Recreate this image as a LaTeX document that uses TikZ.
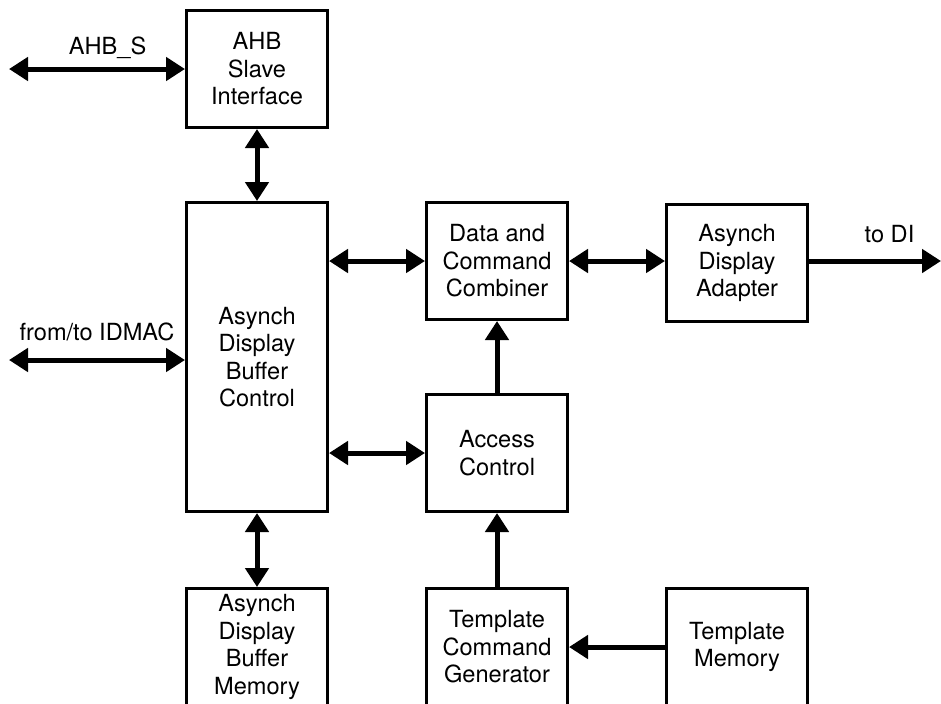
\documentclass[tikz,border=0pt]{standalone}
\usepackage{fontspec}
\setmainfont{TeX Gyre Heros}
\usetikzlibrary{arrows.meta,positioning}

\begin{document}
\begin{tikzpicture}[
    x=0.5pt, y=-0.5pt,
    font=\fontsize{11.8}{13.75}\selectfont,
    node distance=37pt and 48pt,
    block/.style={draw, line width=1.4pt, align=center, minimum width=70.6pt, minimum height=58.6pt, inner sep=2pt},
    bus/.style={{Triangle[length=9.5pt,width=11.5pt]}-{Triangle[length=9.5pt,width=11.5pt]}, line width=2.5pt},
    arrow/.style={-{Triangle[length=9.5pt,width=11.5pt]}, line width=2.5pt},
    lbl/.style={anchor=base, inner sep=0pt}
]
\useasboundingbox (0,0) rectangle (941,703);
\clip (0,0) rectangle (941,703);

\node[block, minimum height=154.6pt] (ctrl) at (257,357) {Asynch\\Display\\Buffer\\Control};
\node[block, above=36pt of ctrl] (ahb) {AHB\\Slave\\Interface};
\node[block, below=of ctrl] (mem) {Asynch\\Display\\Buffer\\Memory};
\node[block, below right=0pt and 48pt of ctrl.north east] (comb) {Data and\\Command\\Combiner};
\node[block, right=of comb, yshift=-1pt] (adapt) {Asynch\\Display\\Adapter};
\node[block, below=36pt of comb] (acc) {Access\\Control};
\node[block, below=of acc] (tcg) {Template\\Command\\Generator};
\node[block, right=of tcg] (tmem) {Template\\Memory};

\coordinate (ahbend) at (9,69);
\coordinate (idmac) at (9,360);
\coordinate (di) at (941,261);

\draw[bus] (ahbend) -- (ahb) node[lbl, pos=0.56, yshift=7.5pt] (ahbs) {AHB\_S};
\draw[bus] (idmac) -- (idmac -| ctrl.west) node[lbl, pos=0.5, yshift=10pt] (idmaclbl) {from/to IDMAC};
\draw[bus] (ahb) -- (ctrl);
\draw[bus] (ctrl) -- (mem);
\draw[bus] (comb.west -| ctrl.east) -- (comb.west);
\draw[bus] (acc.west -| ctrl.east) -- (acc.west);
\draw[bus] (comb.east) -- (comb.east -| adapt.west);
\draw[arrow] (adapt.east |- di) -- (di) node[lbl, pos=0.61, yshift=9.5pt] (dilbl) {to DI};
\draw[arrow] (acc) -- (comb);
\draw[arrow] (tcg) -- (acc);
\draw[arrow] (tmem) -- (tcg);
\end{tikzpicture}
\end{document}
